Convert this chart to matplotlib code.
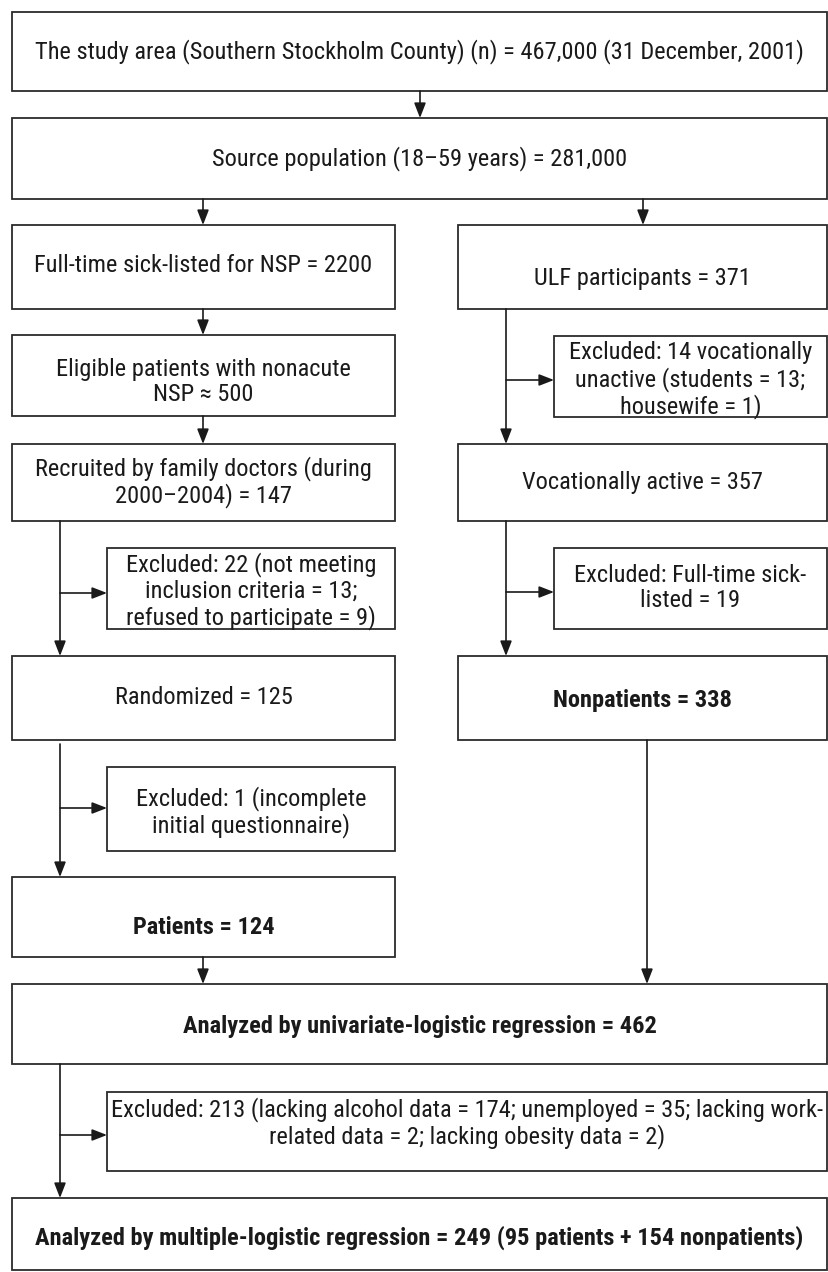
import matplotlib
matplotlib.use("Agg")
import matplotlib.pyplot as plt
from matplotlib.patches import Rectangle
from matplotlib import font_manager

# ---- content (text of the flow chart) ----
top_labels = [
    "The study area (Southern Stockholm County) (n) = 467,000 (31 December, 2001)",
    "Source population (18\u201359 years) = 281,000",
]
patient_labels = [
    "Full-time sick-listed for NSP = 2200",
    "Eligible patients with nonacute\nNSP \u2248 500",
    "Recruited by family doctors (during\n2000\u20132004) = 147",
    "Excluded: 22 (not meeting\ninclusion criteria = 13;\nrefused to participate = 9)",
    "Randomized = 125",
    "Excluded: 1 (incomplete\ninitial questionnaire)",
    "Patients = 124",
]
nonpatient_labels = [
    "ULF participants = 371",
    "Excluded: 14 vocationally\nunactive (students = 13;\nhousewife = 1)",
    "Vocationally active = 357",
    "Excluded: Full-time sick-\nlisted = 19",
    "Nonpatients = 338",
]
bottom_labels = [
    "Analyzed by univariate-logistic regression = 462",
    "Excluded: 213 (lacking alcohol data = 174; unemployed = 35; lacking work-\nrelated data = 2; lacking obesity data = 2)",
    "Analyzed by multiple-logistic regression = 249 (95 patients + 154 nonpatients)",
]
bold_labels = {"Patients = 124", "Nonpatients = 338",
               bottom_labels[0], bottom_labels[2]}

# ---- layout (pixel coordinates, y downward) ----
W, H = 829, 1272
# (x0, y0, x1, y1, text_y)
top_boxes = [(12, 12, 827, 91, 52), (12, 118, 827, 199, 159)]
patient_boxes = [(12, 225, 395, 309, 265), (12, 335, 395, 416, 382),
                 (12, 444, 395, 521, 482), (107, 548, 395, 629, 591),
                 (12, 656, 395, 740, 697), (107, 767, 395, 851, 812),
                 (12, 877, 395, 957, 927)]
nonpatient_boxes = [(458, 225, 827, 309, 278), (554, 336, 827, 417, 380),
                    (458, 444, 827, 521, 482), (554, 548, 827, 629, 588),
                    (458, 656, 827, 740, 700)]
bottom_boxes = [(12, 984, 827, 1064, 1027), (107, 1092, 827, 1171, 1123),
                (12, 1198, 827, 1270, 1238)]
# target pixel width of the first (widest) line, used to size the font
target_width = 772

# arrows: (x0, y0, x1, y1)
arrows = [
    (420, 91, 420, 118),
    (203, 199, 203, 225), (643, 199, 643, 225),
    (203, 309, 203, 335), (203, 416, 203, 444),
    (60, 521, 60, 656), (60, 593, 107, 593),
    (60, 744, 60, 877), (60, 808, 107, 808),
    (203, 957, 203, 984),
    (506, 309, 506, 444), (506, 380, 554, 380),
    (506, 521, 506, 656), (506, 592, 554, 592),
    (647, 740, 647, 984),
    (60, 1064, 60, 1198), (60, 1135, 107, 1135),
]

# ---- fonts ----
installed = {f.name for f in font_manager.fontManager.ttflist}
pref = ["Liberation Sans Narrow", "Roboto Condensed", "Arial Narrow",
        "Liberation Sans", "Arial", "DejaVu Sans"]
fam = [f for f in pref if f in installed] or ["DejaVu Sans"]
plt.rcParams["font.family"] = fam

fig = plt.figure(figsize=(W / 100, H / 100), dpi=100)
ax = fig.add_axes([0, 0, 1, 1])
ax.set_xlim(0, W)
ax.set_ylim(H, 0)
ax.axis("off")

# size the font so the widest line matches the reference width
renderer = fig.canvas.get_renderer()
probe = ax.text(0, 0, top_labels[0], fontsize=16)
pw = probe.get_window_extent(renderer).width
probe.remove()
fs = min(18.5, 16 * target_width / pw)

edge = "#2b2b2b"


def draw_boxes(boxes, labels):
    for (x0, y0, x1, y1, ty), lab in zip(boxes, labels):
        ax.add_patch(Rectangle((x0, y0), x1 - x0, y1 - y0, facecolor="white",
                               edgecolor=edge, lw=1.3))
        ax.text((x0 + x1) / 2, ty, lab, ha="center", va="center",
                fontsize=fs, color="#1a1a1a", linespacing=1.12,
                fontweight="bold" if lab in bold_labels else "normal")


draw_boxes(top_boxes, top_labels)
draw_boxes(patient_boxes, patient_labels)
draw_boxes(nonpatient_boxes, nonpatient_labels)
draw_boxes(bottom_boxes, bottom_labels)

for x0, y0, x1, y1 in arrows:
    ax.annotate("", xy=(x1, y1), xytext=(x0, y0),
                arrowprops=dict(arrowstyle="-|>,head_length=0.9,head_width=0.35",
                                color="#1a1a1a", lw=1.2, shrinkA=0, shrinkB=0,
                                mutation_scale=10))

fig.savefig("out.png", dpi=100, facecolor="white")
